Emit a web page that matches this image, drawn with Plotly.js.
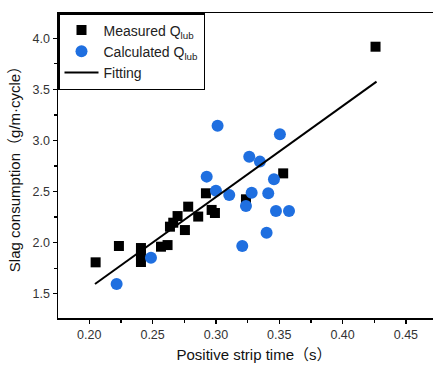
<!DOCTYPE html>
<html>
<head>
<meta charset="utf-8">
<script src="https://cdn.plot.ly/plotly-3.0.1.min.js"></script>
<style>
html,body{margin:0;padding:0;overflow:hidden;background:#fff;}
#chart{width:460px;height:365px;}
</style>
</head>
<body>
<div id="chart"></div>
<script>
// Measured Q_lub (black squares)
const measuredX = [0.205, 0.2234, 0.2408, 0.2408, 0.2408, 0.2566, 0.2618, 0.2637, 0.2663, 0.2697, 0.2755, 0.2781, 0.2860, 0.2921, 0.2966, 0.2992, 0.3237, 0.3531, 0.4260];
const measuredY = [1.807, 1.967, 1.947, 1.879, 1.810, 1.960, 1.976, 2.156, 2.195, 2.260, 2.123, 2.352, 2.255, 2.483, 2.320, 2.290, 2.424, 2.678, 3.918];
// Calculated Q_lub (blue circles)
const calcX = [0.2216, 0.2487, 0.2927, 0.3013, 0.3000, 0.3105, 0.3208, 0.3237, 0.3263, 0.3282, 0.3347, 0.3400, 0.3413, 0.3458, 0.3474, 0.3505, 0.3577];
const calcY = [1.595, 1.852, 2.646, 3.145, 2.508, 2.466, 1.967, 2.358, 2.841, 2.489, 2.793, 2.097, 2.483, 2.620, 2.309, 3.060, 2.309];
// Fitting line end points
const fitX = [0.2045, 0.4268];
const fitY = [1.595, 3.576];

const xTicks = [0.20, 0.25, 0.30, 0.35, 0.40, 0.45];
const xTickLabels = ['0.20', '0.25', '0.30', '0.35', '0.40', '0.45'];
const yTicks = [1.5, 2.0, 2.5, 3.0, 3.5, 4.0];
const yTickLabels = ['1.5', '2.0', '2.5', '3.0', '3.5', '4.0'];

const FONT = 'Liberation Sans, Arial, Noto Sans CJK SC, sans-serif';

const traces = [
  {x: measuredX, y: measuredY, type: 'scatter', mode: 'markers', name: 'Measured Q<sub>lub</sub>',
   marker: {symbol: 'square', size: 10, color: '#000'}},
  {x: calcX, y: calcY, type: 'scatter', mode: 'markers', name: 'Calculated Q<sub>lub</sub>',
   marker: {symbol: 'circle', size: 12, color: '#1f6fe0'}},
  {x: fitX, y: fitY, type: 'scatter', mode: 'lines', name: 'Fitting',
   line: {color: '#000', width: 2}}
];

const layout = {
  width: 460, height: 365,
  margin: {l: 58, r: 10, t: 13, b: 47},
  paper_bgcolor: '#fff', plot_bgcolor: '#fff',
  font: {family: FONT, color: '#222'},
  showlegend: true,
  legend: {x: 0, y: 1, xanchor: 'left', yanchor: 'top', bgcolor: '#fff',
           bordercolor: '#000', borderwidth: 1.5, font: {size: 14, color: '#222', family: FONT},
           tracegroupgap: 0, itemwidth: 34},
  xaxis: {
    range: [0.1753, 0.4848], tickvals: xTicks, ticktext: xTickLabels,
    ticks: 'outside', ticklen: 4, tickwidth: 1.2, tickcolor: '#000',
    showline: true, linecolor: '#000', linewidth: 1.5, mirror: true,
    showgrid: false, zeroline: false,
    tickfont: {size: 12.5, color: '#333'},
    minor: {ticks: 'outside', ticklen: 3, tickcolor: '#000', tickvals: [0.175, 0.225, 0.275, 0.325, 0.375, 0.425, 0.475]},
    title: {text: 'Positive strip time（s）', font: {size: 15, color: '#111'}, standoff: 9}
  },
  yaxis: {
    range: [1.262, 4.248], tickvals: yTicks, ticktext: yTickLabels,
    ticks: 'outside', ticklen: 4, tickwidth: 1.2, tickcolor: '#000',
    showline: true, linecolor: '#000', linewidth: 1.5, mirror: true,
    showgrid: false, zeroline: false,
    tickfont: {size: 12.5, color: '#333'},
    minor: {ticks: 'outside', ticklen: 3, tickcolor: '#000', tickvals: [1.25, 1.75, 2.25, 2.75, 3.25, 3.75, 4.25]},
    title: {text: 'Slag consumption（g/m·cycle）', font: {size: 15, color: '#111'}, standoff: 8}
  }
};

Plotly.newPlot('chart', traces, layout, {displayModeBar: false, staticPlot: true});
</script>
</body>
</html>
